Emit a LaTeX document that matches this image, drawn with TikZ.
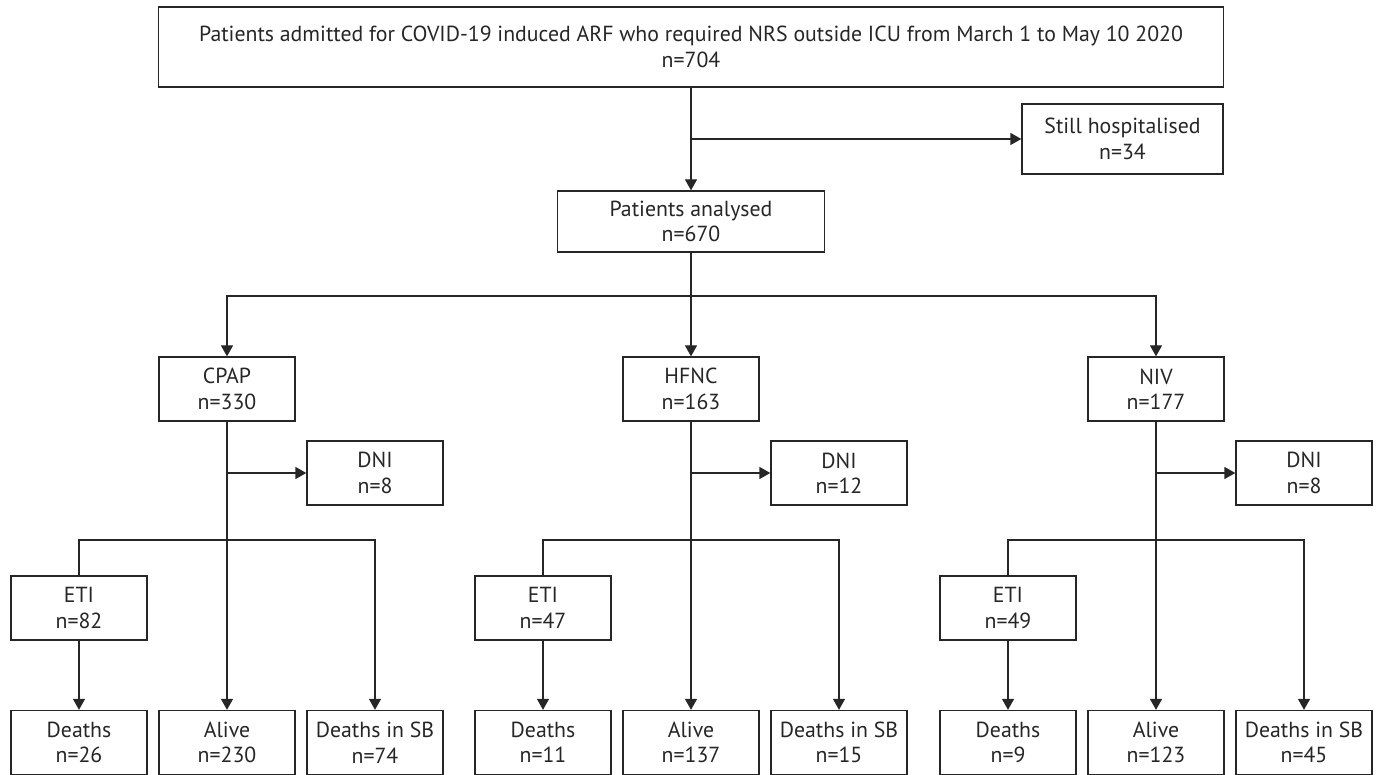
\documentclass[tikz,border=0pt]{standalone}
\usepackage{fontspec}
\setmainfont{PT Sans}
\usetikzlibrary{arrows.meta}
\definecolor{ink}{HTML}{262626}
\begin{document}
\begin{tikzpicture}[x=1pt,y=-1pt,
  every node/.style={font=\fontsize{21.8}{25.5}\selectfont, text=ink},
  box/.style={draw=ink, line width=1.3pt, align=center, inner sep=0pt, minimum width=136pt, minimum height=64pt},
  conn/.style={draw=ink, line width=1.3pt},
  arr/.style={conn, -{Triangle[length=11pt,width=12pt]}}]
\useasboundingbox (0,0) rectangle (1378,775);
\node[box, minimum width=1065pt, minimum height=80pt] (top) at (691,47)
  {Patients admitted for COVID-19 induced ARF who required NRS outside ICU from March 1 to May 10 2020\\n=704};
\node[box, minimum width=201pt, minimum height=70pt] (still) at (1122.5,139) {Still hospitalised\\n=34};
\node[box, minimum width=267pt, minimum height=61pt] (an) at (691,221.5) {Patients analysed\\n=670};
\draw[arr] (top.south) -- (an.north);
\draw[arr] (top.south |- still.west) -- (still.west);
\coordinate (hb) at (691,296);
\foreach \vg/\vc/\vname/\vn/\vdni/\veti/\vdeath/\valive/\vsb in
  {a/227/CPAP/330/8/82/26/230/74, b/691/HFNC/163/12/47/11/137/15, c/1156/NIV/177/8/49/9/123/45} {
  \node[box] (\vg m) at (\vc,389) {\vname\\n=\vn};
  \node[box] (\vg dni) at (\vc+148,473) {DNI\\n=\vdni};
  \node[box] (\vg eti) at (\vc-148,608) {ETI\\n=\veti};
  \node[box] (\vg de) at (\vc-148,742.5) {Deaths\\n=\vdeath};
  \node[box] (\vg al) at (\vc,742.5) {Alive\\n=\valive};
  \node[box] (\vg sb) at (\vc+148,742.5) {Deaths in SB\\n=\vsb};
  \coordinate (\vg br) at (\vc,540);
  \draw[arr] (\vg m.south) -- (\vg al.north);
  \draw[arr] (\vg m.south |- \vg dni.west) -- (\vg dni.west);
  \draw[conn] (\vg eti.north) |- (\vg br);
  \draw[arr] (\vg br) -| (\vg sb.north);
  \draw[arr] (\vg eti.south) -- (\vg de.north);
}
\draw[arr] (an.south) -- (hb) -| (am.north);
\draw[arr] (hb) -| (cm.north);
\draw[arr] (hb) -- (bm.north);
\end{tikzpicture}
\end{document}
